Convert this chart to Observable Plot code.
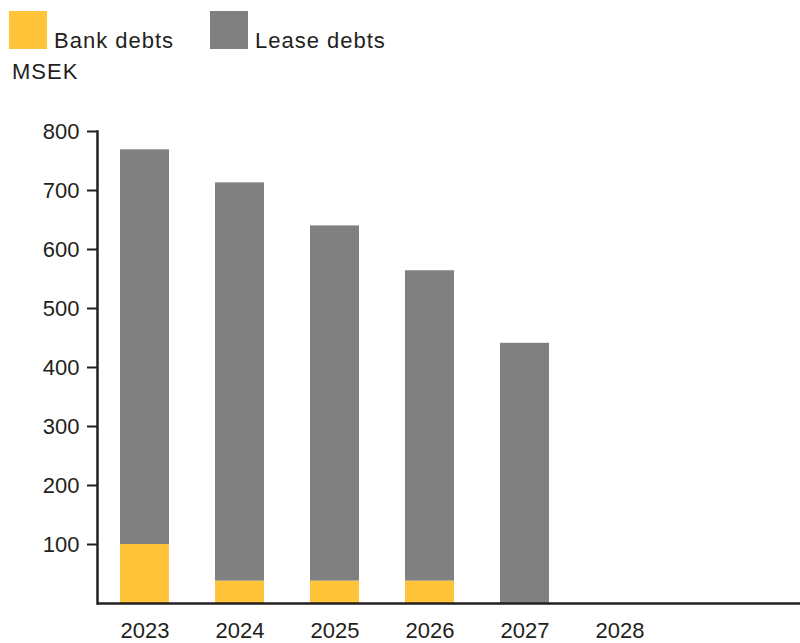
<!DOCTYPE html>
<html><head><meta charset="utf-8">
<script src="https://cdn.jsdelivr.net/npm/d3@7"></script>
<script src="https://cdn.jsdelivr.net/npm/@observablehq/plot@0.6"></script>
<style>
body{margin:0;background:#fff;font-family:"Liberation Sans",Arial,sans-serif;color:#231f20;}
#wrap{position:relative;width:800px;height:643px;}
.sw{position:absolute;width:38px;height:38px;}
.lt{position:absolute;font-size:22px;line-height:22px;letter-spacing:1px;white-space:nowrap;}
svg{position:absolute;left:0;top:0;}
</style></head><body>
<div id="wrap"></div>
<script>
const years = ["2023", "2024", "2025", "2026", "2027", "2028"];
const seriesNames = ["Bank debts", "Lease debts"];
const bankDebts = [100, 38, 38, 38, 0, 0];
const leaseDebts = [669, 675, 602, 526, 441, 0];
const yTicks = [100, 200, 300, 400, 500, 600, 700, 800];
const colors = ["#FFC43A", "#808080"];

const data = years.flatMap((yr, i) => [
  {year: yr, type: seriesNames[0], value: bankDebts[i]},
  {year: yr, type: seriesNames[1], value: leaseDebts[i]}
]);

const plot = Plot.plot({
  width: 800,
  height: 643,
  marginLeft: 97,
  marginRight: 0,
  marginTop: 131,
  marginBottom: 40,
  style: {fontFamily: "'Liberation Sans', Arial, sans-serif", color: "#231f20", background: "transparent"},
  x: {domain: years, range: [97, 667], paddingInner: 0.485, paddingOuter: 0.24, axis: null, label: null},
  y: {domain: [0, 800], axis: null, label: null},
  color: {domain: seriesNames, range: colors},
  marks: [
    Plot.barY(data, {x: "year", y: "value", fill: "type", order: seriesNames}),
    Plot.axisY({ticks: yTicks, tickSize: 10, tickPadding: 8, fontSize: 22, tickFormat: d => d, label: null,
      fill: "#231f20", stroke: "#231f20", strokeWidth: 2, style: "letter-spacing:1px"}),
    Plot.axisX({domain: years, tickSize: 0, tickPadding: 19, fontSize: 22, fill: "#231f20", label: null,
      style: "letter-spacing:1px"}),
    Plot.frame({anchor: "left", stroke: "#231f20", strokeWidth: 2.5}),
    Plot.ruleY([0], {stroke: "#231f20", strokeWidth: 2.5})
  ]
});

const wrap = document.getElementById("wrap");
wrap.appendChild(plot);

const legendItems = [
  {name: seriesNames[0], color: colors[0], sx: 9, tx: 54},
  {name: seriesNames[1], color: colors[1], sx: 210, tx: 255}
];
legendItems.forEach(it => {
  const s = document.createElement("div");
  s.className = "sw";
  s.style.left = it.sx + "px"; s.style.top = "11px"; s.style.background = it.color;
  wrap.appendChild(s);
  const t = document.createElement("div");
  t.className = "lt";
  t.style.left = it.tx + "px"; t.style.top = "30px";
  t.textContent = it.name;
  wrap.appendChild(t);
});
const u = document.createElement("div");
u.className = "lt";
u.style.left = "12px"; u.style.top = "61px";
u.textContent = "MSEK";
wrap.appendChild(u);
</script>
</body></html>
